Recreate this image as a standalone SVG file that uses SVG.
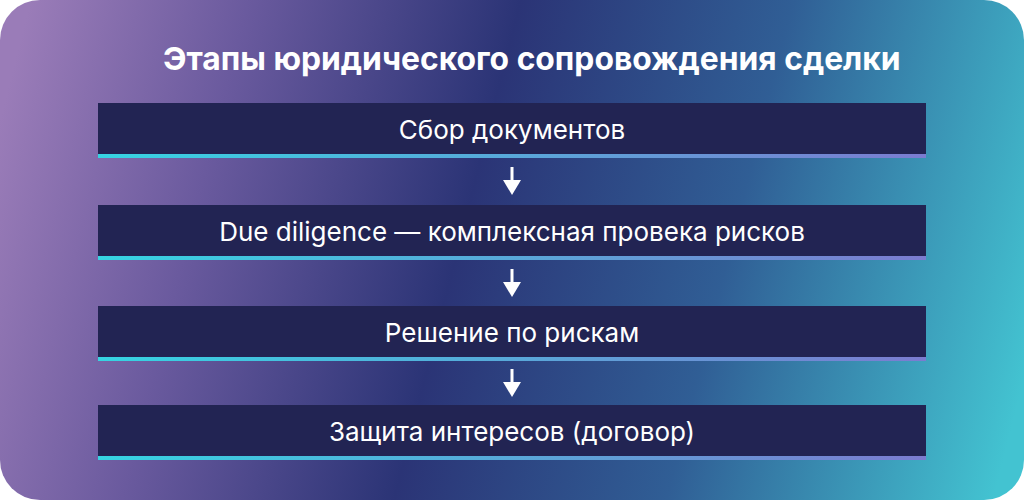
<svg xmlns="http://www.w3.org/2000/svg" width="1024" height="500" viewBox="0 0 1024 500">
  <defs>
    <linearGradient id="bg" gradientUnits="userSpaceOnUse" x1="0" y1="120" x2="1024" y2="380">
      <stop offset="0" stop-color="#9a7cb8"/>
      <stop offset="0.2" stop-color="#6a5a9e"/>
      <stop offset="0.45" stop-color="#2b3476"/>
      <stop offset="0.7" stop-color="#305e95"/>
      <stop offset="1" stop-color="#43c3d1"/>
    </linearGradient>
    <linearGradient id="bar" x1="0" y1="0" x2="1" y2="0">
      <stop offset="0" stop-color="#36d4e2"/>
      <stop offset="1" stop-color="#7b7cd0"/>
    </linearGradient>
    <g id="arrow">
      <rect x="510.5" y="0" width="3" height="14" fill="#ffffff"/>
      <polygon points="503,13 521,13 512,28" fill="#ffffff"/>
    </g>
  </defs>
  <style>
    .box { fill: #222453; }
    .bar { fill: url(#bar); }
    .title { font-family: Inter, "Noto Sans", "Liberation Sans", sans-serif; font-weight: 700; font-size: 31.8px; fill: #ffffff; }
    .label { font-family: Inter, "Noto Sans", "Liberation Sans", sans-serif; font-size: 26px; fill: #ffffff; text-anchor: middle; }
  </style>
  <rect x="0" y="0" width="1024" height="500" rx="40" ry="40" fill="url(#bg)"/>
  <text class="title" x="163" y="70">Этапы юридического сопровождения сделки</text>

  <g id="connectors">
    <use href="#arrow" y="167"/>
    <use href="#arrow" y="269"/>
    <use href="#arrow" y="369"/>
  </g>

  <g id="node1">
    <rect class="box" x="98" y="103" width="828" height="51"/>
    <rect class="bar" x="98" y="154" width="828" height="4"/>
    <text class="label" x="512" y="139">Сбор документов</text>
  </g>
  <g id="node2">
    <rect class="box" x="98" y="205" width="828" height="51"/>
    <rect class="bar" x="98" y="256" width="828" height="4"/>
    <text class="label" x="512" y="241">Due diligence — комплексная провека рисков</text>
  </g>
  <g id="node3">
    <rect class="box" x="98" y="306" width="828" height="51"/>
    <rect class="bar" x="98" y="357" width="828" height="4"/>
    <text class="label" x="512" y="342">Решение по рискам</text>
  </g>
  <g id="node4">
    <rect class="box" x="98" y="405" width="828" height="51"/>
    <rect class="bar" x="98" y="456" width="828" height="4"/>
    <text class="label" x="512" y="441">Защита интересов (договор)</text>
  </g>
</svg>
